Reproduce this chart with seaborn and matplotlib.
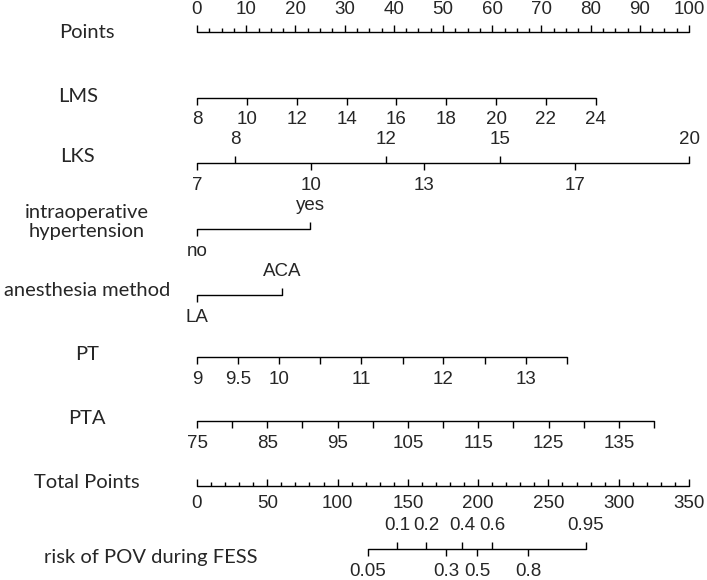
import matplotlib
matplotlib.use("Agg")
import matplotlib.pyplot as plt
import numpy as np
import pandas as pd
import seaborn as sns

# ---- data (values -> position on the 0-100 Points scale)
points_major = [0, 10, 20, 30, 40, 50, 60, 70, 80, 90, 100]
points_minor = [2.5, 5, 7.5, 12.5, 15, 17.5, 22.5, 25, 27.5, 32.5, 35, 37.5,
                42.5, 45, 47.5, 52.5, 55, 57.5, 62.5, 65, 67.5, 72.5, 75, 77.5,
                82.5, 85, 87.5, 92.5, 95, 97.5]

lms_vals = ["8", "10", "12", "14", "16", "18", "20", "22", "24"]
lms_pts = [0, 10.1, 20.3, 30.4, 40.5, 50.6, 60.8, 70.9, 81.0]

lks_vals = ["7", "8", "10", "12", "13", "15", "17", "20"]
lks_pts = [0, 7.7, 23.1, 38.5, 46.2, 61.5, 76.9, 100]
lks_up = [False, True, False, True, False, True, False, True]

hyp_vals = ["no", "yes"]
hyp_pts = [0, 23.0]

anes_vals = ["LA", "ACA"]
anes_pts = [0, 17.3]

pt_vals = ["9", "9.5", "10", "", "11", "", "12", "", "13", ""]
pt_pts = [0, 8.4, 16.7, 25.1, 33.4, 41.8, 50.1, 58.5, 66.9, 75.2]

pta_vals = ["75", "", "85", "", "95", "", "105", "", "115", "", "125", "", "135", ""]
pta_pts = [0, 7.1, 14.3, 21.4, 28.6, 35.7, 42.9, 50.0, 57.2, 64.3, 71.5, 78.6, 85.8, 92.9]

total_major = [0, 50, 100, 150, 200, 250, 300, 350]
total_minor = [10, 20, 30, 40, 60, 70, 80, 90, 110, 120, 130, 140, 160, 170, 180, 190,
               210, 220, 230, 240, 260, 270, 280, 290, 310, 320, 330, 340]
total_max = 350

risk_vals = ["0.05", "0.1", "0.2", "0.3", "0.4", "0.5", "0.6", "0.8", "0.95"]
risk_total = [121.6, 142.3, 162.9, 177.1, 188.5, 199.2, 209.9, 235.5, 276.7]
risk_up = [False, True, True, False, True, False, True, False, True]

row_names = ["Points", "LMS", "LKS", "intraoperative\nhypertension", "anesthesia method",
             "PT", "PTA", "Total Points", "risk of POV during FESS"]

# ---- layout (pixel rows)
W, H = 707, 580
x0, ppu = 197, 4.92
row_y = [32, 98, 163, 229, 295, 357, 421, 486, 549]
name_pos = [(87, 33), (78, 96), (77, 156), (87, 222), (87, 291),
            (87, 354), (87, 419), (87, 482), (151, 557)]

sns.set_style("white")
plt.rcParams["font.family"] = ["Liberation Sans", "DejaVu Sans"]
TICK_FS = 13.5
NAME_FONT = ["Lato", "DejaVu Sans"]

fig = plt.figure(figsize=(W / 100, H / 100), dpi=100)
ax = fig.add_axes([0, 0, 1, 1])
ax.set_xlim(-x0 / ppu, (W - x0) / ppu)
ax.set_ylim(H, 0)
ax.axis("off")

LW = 1.0
TL = 7


def axis_line(pts, y):
    df = pd.DataFrame({"x": [min(pts), max(pts)], "y": [y, y]})
    sns.lineplot(data=df, x="x", y="y", color="black", lw=LW, ax=ax,
                 estimator=None, sort=False)


def scale(pts, labels, y, up=None):
    axis_line(pts, y)
    if up is None:
        up = [False] * len(pts)
    for p, lab, u in zip(pts, labels, up):
        if u:
            ax.vlines(p, y - TL, y, color="black", lw=LW)
            ax.text(p, y - 23, lab, ha="center", va="center", fontsize=TICK_FS)
        else:
            ax.vlines(p, y, y + TL, color="black", lw=LW)
            ax.text(p, y + 22, lab, ha="center", va="center", fontsize=TICK_FS)


# Points row (ticks point up, labels on top)
y = row_y[0]
axis_line(points_major, y)
ax.vlines(points_major, y - TL, y, color="black", lw=LW)
ax.vlines(points_minor, y - 4, y, color="black", lw=LW)
for p in points_major:
    ax.text(p, y - 22, str(p), ha="center", va="center", fontsize=TICK_FS)

scale(lms_pts, lms_vals, row_y[1])
scale(lks_pts, lks_vals, row_y[2], lks_up)
scale(hyp_pts, hyp_vals, row_y[3], [False, True])
scale(anes_pts, anes_vals, row_y[4], [False, True])
scale(pt_pts, pt_vals, row_y[5])
scale(pta_pts, pta_vals, row_y[6])

# Total points row
y = row_y[7]
tmaj = [t * 100 / total_max for t in total_major]
tmin = [t * 100 / total_max for t in total_minor]
axis_line(tmaj, y)
ax.vlines(tmaj, y - TL, y, color="black", lw=LW)
ax.vlines(tmin, y - 4, y, color="black", lw=LW)
for p, t in zip(tmaj, total_major):
    ax.text(p, y + 17, str(t), ha="center", va="center", fontsize=TICK_FS)

# risk row
rpts = [t * 100 / total_max for t in risk_total]
scale(rpts, risk_vals, row_y[8], risk_up)

for name, (nx, ny) in zip(row_names, name_pos):
    ax.text((nx - x0) / ppu, ny, name, ha="center", va="center",
            fontsize=14.5, family=NAME_FONT, linespacing=1.15)

fig.savefig("out.png", dpi=100)
